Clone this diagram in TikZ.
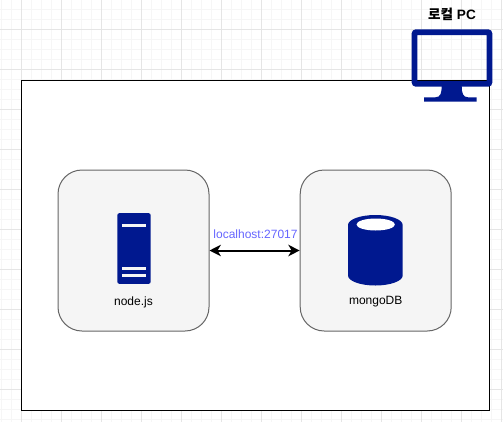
\documentclass[tikz,border=0pt]{standalone}
\usepackage{fontspec}
\setmainfont{Liberation Sans}
\newfontfamily\cjk{Noto Sans CJK KR}
\usepackage{xcolor}
\usetikzlibrary{arrows.meta, positioning, calc}
\definecolor{mynavy}{RGB}{0,24,143}
\definecolor{mygridmajor}{RGB}{229,229,229}
\definecolor{mygridminor}{RGB}{246,246,246}
\definecolor{myfill}{RGB}{245,245,245}
\definecolor{mystroke}{RGB}{102,102,102}
\definecolor{mylabel}{RGB}{102,102,255}
\tikzset{
  hostbox/.style={rectangle, draw=black, fill=white, line width=0.85pt,
    minimum width=351pt, minimum height=247.5pt, anchor=north west},
  appbox/.style={rectangle, draw=mystroke, fill=myfill, line width=0.75pt,
    minimum width=113.25pt, minimum height=120.75pt, rounded corners=18pt},
  servericon/.style={rectangle, fill=mynavy, minimum width=25pt, minimum height=53pt,
    rounded corners=1.5pt, inner sep=0pt},
  serverbar/.style={rectangle, fill=myfill, minimum width=17.5pt, minimum height=2.4pt, inner sep=0pt},
  applabel/.style={font=\fontsize{9}{11}\selectfont, inner sep=0pt},
  arrow/.style={{Stealth[length=8.5pt,width=8.5pt,inset=2.5pt]}-{Stealth[length=8.5pt,width=8.5pt,inset=2.5pt]}, line width=1.5pt, color=black}
}
\begin{document}
\begin{tikzpicture}[x=0.75pt, y=-0.75pt]
  \useasboundingbox (0,0) rectangle (503,422);
  % Grid
  \foreach \x in {1,11,...,501} \draw[mygridminor, line width=0.75pt] (\x.5,0) -- (\x.5,422);
  \foreach \y in {9,19,...,419} \draw[mygridminor, line width=0.75pt] (0,\y.5) -- (503,\y.5);
  \foreach \x in {21,61,...,501} \draw[mygridmajor, line width=0.75pt] (\x.5,0) -- (\x.5,422);
  \foreach \y in {29,69,...,419} \draw[mygridmajor, line width=0.75pt] (0,\y.5) -- (503,\y.5);

  % Boxes
  \node[hostbox] (host) at (21.1,80.1) {};
  \node[appbox] (nodebox) at (133.5,250.5) {};
  \node[appbox] (mongobox) at (375.7,250.5) {};

  % Monitor
  \fill[mynavy, even odd rule] [rounded corners=3pt] (411.7,29.3) rectangle (492.3,86.7)
    [sharp corners] (417.3,35) rectangle (486.7,81);
  \fill[mynavy] (441.7,86) -- (461.7,86) .. controls (461.7,93) and (463,97.3) .. (468,97.3)
    -- (476.7,97.3) -- (476.7,101.7) -- (424,101.7) -- (424,97.3) -- (435.5,97.3)
    .. controls (440.5,97.3) and (441.7,93) .. (441.7,86) -- cycle;
  \node[font=\fontsize{10.2}{12}\selectfont\bfseries, inner sep=0pt] (pclabel) at (452,14) {{\cjk 로컬} PC};

  % Server
  \node[servericon] (server) at (134,248.5) {};
  \node[serverbar] (bar1) at (134,225.7) {};
  \node[serverbar] (bar2) at (134,268.5) {};
  \node[serverbar] (bar3) at (134,275.2) {};
  \node[applabel] (nodelabel) at (133.5,302) {node.js};

  % Database
  \fill[mynavy] (348,225) arc[start angle=180, end angle=360, x radius=27.35, y radius=10]
    -- (402.7,275.5) arc[start angle=0, end angle=180, x radius=27.35, y radius=10] -- cycle;
  \fill[white] (375.7,224.5) ellipse[x radius=19.2, y radius=6];
  \node[applabel] (mongolabel) at (375.7,302) {mongoDB};

  % Link
  \draw[arrow] (nodebox.east) -- (mongobox.west);
  \node[applabel, text=mylabel] (linklabel) at (255.5,234.7) {localhost:27017};
\end{tikzpicture}
\end{document}
